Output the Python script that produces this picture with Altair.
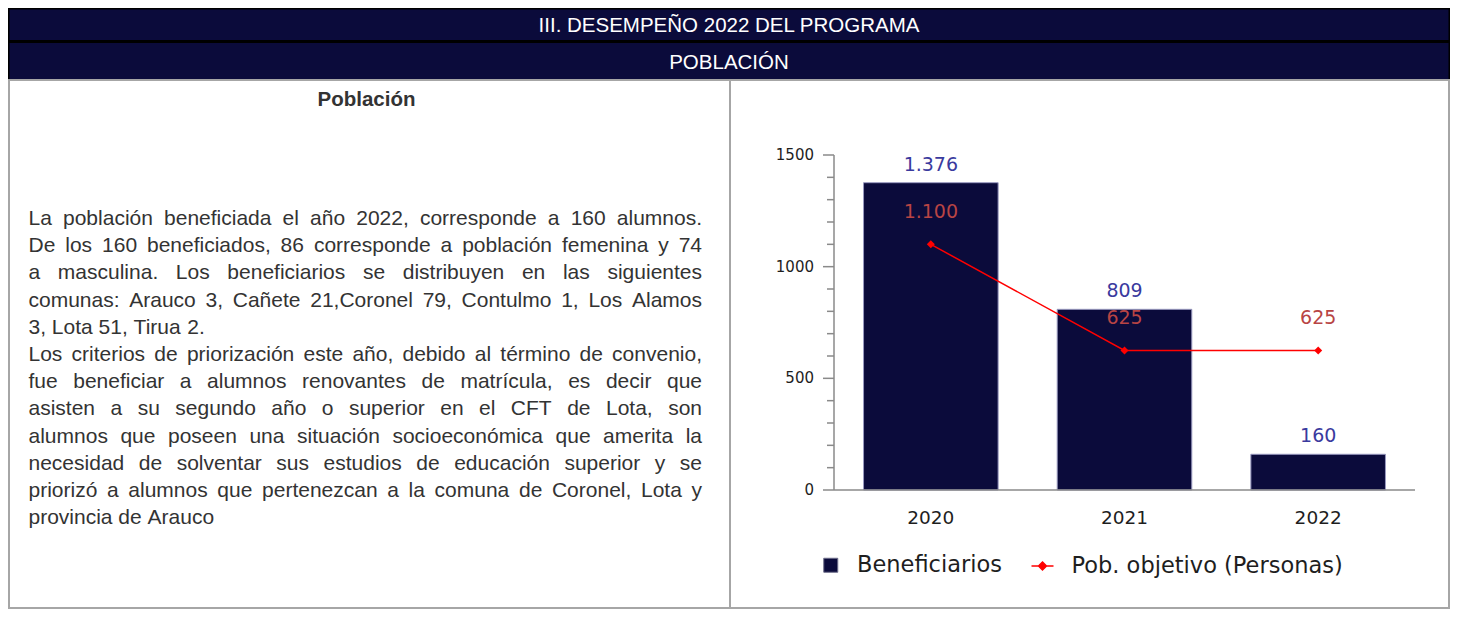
import altair as alt
import pandas as pd

# ---------------- data ----------------
years = ["2020", "2021", "2022"]
beneficiarios = [1376, 809, 160]
pob_objetivo = [1100, 625, 625]
serie_bar = "Beneficiarios"
serie_line = "Pob. objetivo (Personas)"
y_major_ticks = [0, 500, 1000, 1500]
y_minor_ticks = [100, 200, 300, 400, 600, 700, 800, 900, 1100, 1200, 1300, 1400]

header_1 = "III. DESEMPEÑO 2022 DEL PROGRAMA"
header_2 = "POBLACIÓN"
left_title = "Población"
paragraph_lines = [
    "La población beneficiada el año 2022, corresponde a 160 alumnos.",
    "De los 160 beneficiados, 86 corresponde a población femenina y 74",
    "a masculina. Los beneficiarios se distribuyen en las siguientes",
    "comunas: Arauco 3, Cañete 21,Coronel 79, Contulmo 1, Los Alamos",
    "3, Lota 51, Tirua 2.",
    "Los criterios de priorización este año, debido al término de convenio,",
    "fue beneficiar a alumnos renovantes de matrícula, es decir que",
    "asisten a su segundo año o superior en el CFT de Lota, son",
    "alumnos que poseen una situación socioeconómica que amerita la",
    "necesidad de solventar sus estudios de educación superior y se",
    "priorizó a alumnos que pertenezcan a la comuna de Coronel, Lota y",
    "provincia de Arauco",
]
justified = [True, True, True, True, False, True, True, True, True, True, True, False]

# ---------------- layout / style ----------------
W, H = 1442, 601
NAVY = "#0B0B3B"
TEXT = "#333333"
BORDER = "#A6A6A6"
AXIS = "#8A8A8A"
LABEL = "#1E1E1E"
FS = 21
BODY_LEFT, BODY_RIGHT = 20.5, 694.0
BODY_BASE, BODY_STEP = 217.0, 27.2
X_RANGE = [826, 1407]
Y_RANGE = [482, 147]
AXIS_X = X_RANGE[0]

ARIAL_W = {c: 556 for c in "0123456789"}
ARIAL_W.update({
    " ": 278, ",": 278, ".": 278, ":": 278, ";": 278, "(": 333, ")": 333, "-": 333,
    "a": 556, "b": 556, "c": 500, "d": 556, "e": 556, "f": 278, "g": 556, "h": 556,
    "i": 222, "j": 222, "k": 500, "l": 222, "m": 833, "n": 556, "o": 556, "p": 556,
    "q": 556, "r": 333, "s": 500, "t": 278, "u": 556, "v": 500, "w": 722, "x": 500,
    "y": 500, "z": 500, "á": 556, "é": 556, "í": 278, "ó": 556, "ú": 556, "ñ": 556,
    "A": 667, "B": 667, "C": 722, "D": 722, "E": 667, "F": 611, "G": 778, "H": 722,
    "I": 278, "J": 500, "K": 667, "L": 556, "M": 833, "N": 722, "O": 778, "P": 667,
    "Q": 778, "R": 722, "S": 667, "T": 611, "U": 722, "V": 667, "W": 944, "X": 667,
    "Y": 667, "Z": 611,
})


def text_w(s, fs):
    return sum(ARIAL_W.get(c, 556) for c in s) * fs / 1000.0


rows = []
for i, (line, just) in enumerate(zip(paragraph_lines, justified)):
    words = line.split()
    base = BODY_BASE + i * BODY_STEP
    ws = [text_w(w, FS) for w in words]
    if just and len(words) > 1:
        gap = (BODY_RIGHT - BODY_LEFT - sum(ws)) / (len(words) - 1)
    else:
        gap = text_w(" ", FS)
    x = BODY_LEFT
    for w, wd in zip(words, ws):
        rows.append({"w": w, "px": x, "py": base})
        x += wd + gap
words_df = pd.DataFrame(rows)

one = pd.DataFrame({"k": [0]})

df = pd.DataFrame({
    "year": years,
    "ben": beneficiarios,
    "pob": pob_objetivo,
    "serie": [serie_bar] * len(years),
    "serie2": [serie_line] * len(years),
})
major_df = pd.DataFrame({"t": y_major_ticks})
minor_df = pd.DataFrame({"t": y_minor_ticks})
extent_df = pd.DataFrame({"lo": [y_major_ticks[0]], "hi": [y_major_ticks[-1]]})

# ---------------- decoration layers ----------------
def rect(x, x2, y, y2, color):
    return alt.Chart(one).mark_rect(color=color).encode(
        x=alt.value(x), x2=alt.value(x2), y=alt.value(y), y2=alt.value(y2))


def vrule(x, y, y2):
    return alt.Chart(one).mark_rule(color=BORDER, strokeWidth=2).encode(
        x=alt.value(x), y=alt.value(y), y2=alt.value(y2))


def hrule(y, x, x2):
    return alt.Chart(one).mark_rule(color=BORDER, strokeWidth=2).encode(
        y=alt.value(y), x=alt.value(x), x2=alt.value(x2))


header_black = rect(0, W, 0, 72, "#000000")
header_nav1 = rect(1.5, W - 1.5, 1.5, 32, NAVY)
header_nav2 = rect(1.5, W - 1.5, 35, 71, NAVY)

header_txt1 = alt.Chart(one).mark_text(
    font="Liberation Sans", fontSize=20.5, color="white", align="center", baseline="alphabetic"
).encode(x=alt.value(721), y=alt.value(23.5), text=alt.value(header_1))
header_txt2 = alt.Chart(one).mark_text(
    font="Liberation Sans", fontSize=20.5, color="white", align="center", baseline="alphabetic"
).encode(x=alt.value(721), y=alt.value(60.5), text=alt.value(header_2))

borders = [
    hrule(72, 0, W),
    hrule(600, 0, W),
    vrule(1, 72, 601),
    vrule(722, 72, 601),
    vrule(W - 1, 72, 601),
]

title_txt = alt.Chart(one).mark_text(
    font="Liberation Sans", fontSize=20.5, fontWeight="bold", color=TEXT,
    align="center", baseline="alphabetic"
).encode(x=alt.value(358.5), y=alt.value(97.5), text=alt.value(left_title))

body_txt = alt.Chart(words_df).mark_text(
    font="Liberation Sans", fontSize=FS, color=TEXT, align="left", baseline="alphabetic"
).encode(
    x=alt.X("px:Q", scale=None, axis=None),
    y=alt.Y("py:Q", scale=None, axis=None),
    text="w:N",
)

# ---------------- chart layers ----------------
x_scale = alt.Scale(domain=years, range=X_RANGE, paddingInner=0.305, paddingOuter=0.1525)
y_scale = alt.Scale(domain=[y_major_ticks[0], y_major_ticks[-1]], range=Y_RANGE, nice=False)


def X(field="year:N"):
    return alt.X(field, scale=x_scale, axis=None)


def Y(field):
    return alt.Y(field, scale=y_scale, axis=None)


bars = alt.Chart(df).mark_bar(stroke="#9A9AC0", strokeWidth=1).encode(
    x=X(),
    y=Y("ben:Q"),
    color=alt.Color("serie:N", scale=alt.Scale(domain=[serie_bar], range=[NAVY]),
                    legend=alt.Legend(
                        orient="none", legendX=811.5, legendY=546, title=None,
                        symbolType="square", symbolSize=196, symbolStrokeColor="#6E6E8A",
                        symbolStrokeWidth=1, symbolOpacity=1, padding=0, labelLimit=0,
                        labelFont="DejaVu Sans", labelFontSize=22.5, labelColor=LABEL,
                        labelOffset=15)),
)

bar_labels = alt.Chart(df).transform_calculate(
    lab="replace(format(datum.ben, ','), ',', '.')"
).mark_text(font="DejaVu Sans", fontSize=19, color="#3A3A9E", dy=-18, baseline="middle").encode(
    x=X(), y=Y("ben:Q"), text="lab:N",
)

# y axis (domain, major ticks, minor ticks, labels) drawn through the y scale
y_domain = alt.Chart(extent_df).mark_rule(color=AXIS, strokeWidth=1.5).encode(
    x=alt.value(AXIS_X), y=Y("lo:Q"), y2="hi:Q")
y_major = alt.Chart(major_df).mark_rule(color=AXIS, strokeWidth=1.5).encode(
    y=Y("t:Q"), x=alt.value(AXIS_X - 11), x2=alt.value(AXIS_X))
y_minor = alt.Chart(minor_df).mark_rule(color=AXIS, strokeWidth=1.5).encode(
    y=Y("t:Q"), x=alt.value(AXIS_X - 7), x2=alt.value(AXIS_X))
y_labels = alt.Chart(major_df).mark_text(
    font="DejaVu Sans", fontSize=15, color=LABEL, align="right", baseline="middle"
).encode(y=Y("t:Q"), x=alt.value(AXIS_X - 20), text=alt.Text("t:Q", format="d"))

# x axis (domain + labels) drawn through the scales
x_domain = alt.Chart(extent_df).mark_rule(color=AXIS, strokeWidth=1.5).encode(
    y=Y("lo:Q"), x=alt.value(X_RANGE[0]), x2=alt.value(X_RANGE[1]))
x_labels = alt.Chart(df).mark_text(
    font="DejaVu Sans", fontSize=18.5, color=LABEL, align="center", baseline="middle"
).encode(x=X(), y=alt.value(510), text="year:N")

line = alt.Chart(df).mark_line(color="#FF0000", strokeWidth=1.5).encode(
    x=X(), y=Y("pob:Q"),
)

points = alt.Chart(df).mark_point(shape="diamond", filled=True, size=64, opacity=1).encode(
    x=X(),
    y=Y("pob:Q"),
    fill=alt.Fill("serie2:N", scale=alt.Scale(domain=[serie_line], range=["#FF0000"]),
                  legend=alt.Legend(
                      orient="none", legendX=1022.5, legendY=546, title=None,
                      symbolType="M-1,0L1,0M0,-0.36L0.36,0L0,0.36L-0.36,0Z",
                      symbolSize=484, symbolStrokeColor="#FF0000", symbolStrokeWidth=1.5,
                      symbolFillColor="#FF0000", symbolOpacity=1, padding=0, labelLimit=0,
                      labelFont="DejaVu Sans", labelFontSize=22.5, labelColor=LABEL,
                      labelOffset=17)),
)

pob_labels = alt.Chart(df).transform_calculate(
    lab="replace(format(datum.pob, ','), ',', '.')"
).mark_text(font="DejaVu Sans", fontSize=19, color="#B84444", dy=-32, baseline="middle").encode(
    x=X(), y=Y("pob:Q"), text="lab:N",
)

chart = alt.layer(
    header_black, header_nav1, header_nav2, header_txt1, header_txt2,
    *borders, title_txt, body_txt,
    bars, y_domain, y_major, y_minor, y_labels, x_domain, x_labels,
    line, points, bar_labels, pob_labels,
).properties(
    width=W, height=H, padding=0,
    autosize=alt.AutoSizeParams(type="none"),
    background="white",
).configure_view(stroke="transparent")

chart.save("out.html", embed_options={"renderer": "svg", "actions": False})
